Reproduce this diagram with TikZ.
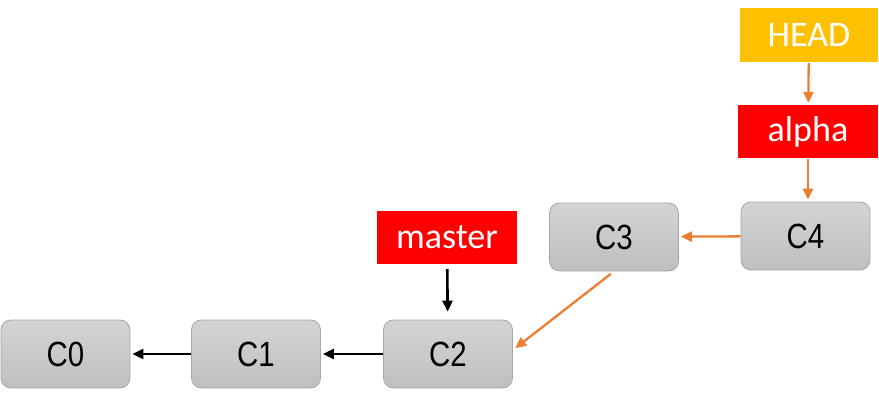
\documentclass[tikz,border=0pt]{standalone}
\usepackage{fontspec}
\setmainfont{Liberation Sans}
\newfontfamily\labelfont{Carlito}
\newfontfamily\commitfont[FakeStretch=0.84]{Liberation Sans}
\usetikzlibrary{arrows.meta,positioning}
\definecolor{branchred}{HTML}{FF0000}
\definecolor{headgold}{HTML}{FFC000}
\definecolor{linkorange}{HTML}{ED7D31}
\definecolor{commitedge}{HTML}{A6A6A6}

\begin{document}
\begin{tikzpicture}[
    x=1pt, y=1pt,
    commit/.style={rectangle, rounded corners=10pt, draw=commitedge, line width=0.8pt,
        top color=black!17, bottom color=black!25,
        minimum width=129pt, minimum height=68pt, font=\commitfont\fontsize{35}{40}\selectfont},
    branch/.style={rectangle, fill=branchred, text=white, minimum width=140pt,
        minimum height=53pt, font=\labelfont\fontsize{36}{40}\selectfont},
    headref/.style={branch, fill=headgold, minimum width=138pt, minimum height=54pt},
    parent/.style={-{Triangle[length=11pt,width=10pt]}, line width=2.6pt},
    moved/.style={-{Triangle[length=11pt,width=10pt]}, line width=2.3pt, draw=linkorange}
]
    \useasboundingbox (0,0) rectangle (879,400);

    \node[commit] (c0) at (65.5, 46) {C0};
    \node[commit] (c1) at (256, 46) {C1};
    \node[commit] (c2) at (448, 46) {C2};
    \node[commit] (c3) at (614, 163) {C3};
    \node[commit] (c4) at (805.5, 164) {C4};

    \node[branch] (master) at (447, 162.5) {master};
    \node[branch] (alpha) at (808, 268.5) {alpha};
    \node[headref] (head) at (809, 365) {HEAD};

    \draw[parent, shorten >=2pt] (c1) -- (c0); \draw[parent, shorten >=2pt] (c2) -- (c1);
    \draw[parent, shorten <=5pt, shorten >=8pt] (master) -- (c2);

    \draw[moved, shorten >=2pt] (c4) -- (c3);
    \draw[moved, shorten <=4pt, shorten >=3pt] (c3.south) -- ([yshift=4pt]c2.east);
    \draw[moved, shorten <=1pt, shorten >=2pt] (head) -- (alpha);
    \draw[moved, shorten <=1pt, shorten >=2pt] (alpha) -- (alpha |- c4.north);
\end{tikzpicture}
\end{document}
